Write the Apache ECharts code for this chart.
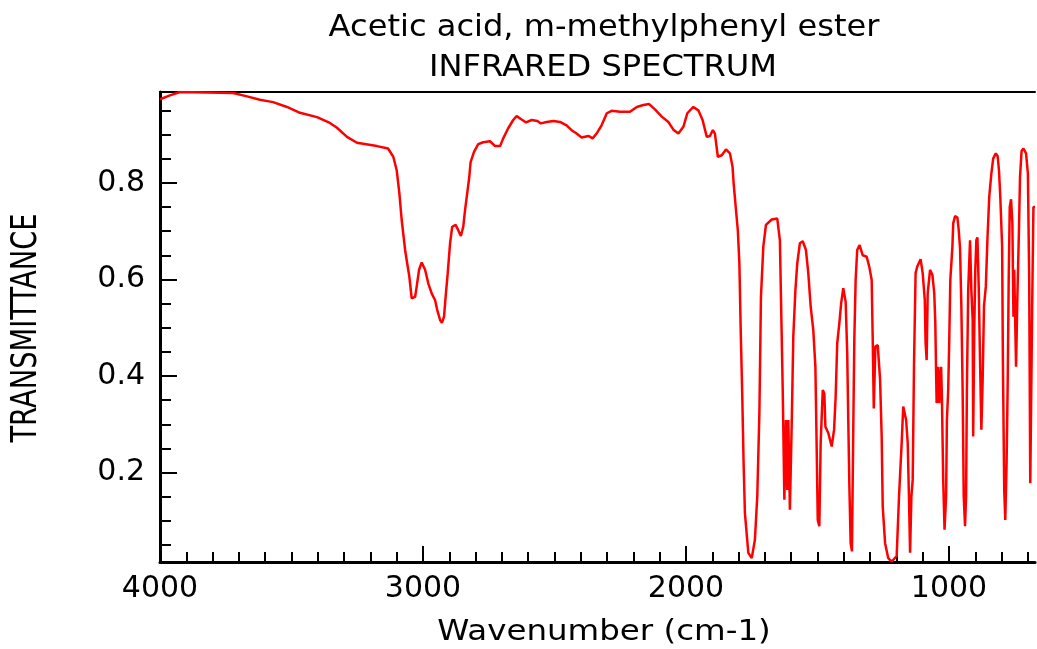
<!DOCTYPE html>
<html>
<head>
<meta charset="utf-8">
<script src="https://cdn.jsdelivr.net/npm/echarts@6/dist/echarts.min.js"></script>
<style>
  html, body { margin: 0; padding: 0; background: #fff; }
  #main { width: 1037px; height: 649px; }
</style>
</head>
<body>
<div id="main"></div>
<script>
// spectrum (cm-1, transmittance)
var wavenumber = [4000,3962,3924,3722,3669,3620,3570,3517,3468,3403,3354,3327,3289,3251,3175,3133,3113,3100,3090,3081,3068,3060,3052,3043,3030,3024,3015,3005,2992,2980,2967,2954,2946,2935,2928,2920,2914,2906,2897,2889,2876,2866,2856,2847,2840,2832,2824,2819,2806,2790,2771,2745,2726,2707,2695,2676,2657,2644,2625,2608,2587,2565,2552,2530,2504,2479,2454,2435,2416,2397,2371,2355,2340,2321,2301,2283,2251,2213,2187,2162,2140,2118,2092,2067,2048,2029,2010,1995,1972,1953,1937,1921,1909,1898,1890,1879,1864,1848,1833,1823,1819,1811,1803,1797,1792,1786,1781,1776,1763,1750,1738,1729,1721,1715,1706,1696,1674,1653,1643,1638,1632,1626,1620,1615,1611,1605,1598,1592,1584,1577,1567,1556,1544,1535,1526,1516,1508,1503,1499,1493,1488,1480,1474,1470,1459,1446,1437,1431,1425,1417,1410,1402,1393,1387,1383,1379,1374,1369,1364,1360,1355,1349,1340,1328,1313,1303,1294,1290,1286,1280,1271,1262,1256,1252,1243,1231,1218,1199,1190,1180,1174,1163,1157,1152,1148,1143,1138,1133,1127,1121,1108,1100,1092,1089,1085,1081,1072,1063,1056,1052,1049,1047,1041,1037,1030,1027,1022,1017,1011,1008,1003,999,995,987,984,977,968,963,958,953,948,944,939,935,932,927,920,915,910,908,904,900,896,892,887,882,877,872,867,860,854,847,839,832,822,815,810,805,798,795,790,786,781,777,773,769,764,759,755,752,745,740,734,730,724,717,707,700,695,691,684,679,673];
var transmittance = [0.973,0.981,0.988,0.986,0.979,0.972,0.967,0.957,0.945,0.936,0.924,0.914,0.895,0.883,0.876,0.871,0.854,0.826,0.779,0.723,0.661,0.633,0.606,0.561,0.564,0.585,0.620,0.635,0.620,0.592,0.571,0.557,0.537,0.516,0.510,0.523,0.564,0.613,0.675,0.709,0.713,0.702,0.690,0.709,0.744,0.778,0.812,0.843,0.864,0.880,0.884,0.886,0.876,0.876,0.892,0.913,0.930,0.938,0.931,0.925,0.930,0.928,0.923,0.926,0.928,0.926,0.919,0.909,0.902,0.894,0.897,0.892,0.902,0.919,0.944,0.949,0.947,0.947,0.957,0.961,0.963,0.952,0.937,0.926,0.910,0.902,0.916,0.944,0.957,0.950,0.930,0.895,0.897,0.909,0.902,0.854,0.857,0.869,0.861,0.833,0.800,0.750,0.702,0.633,0.495,0.357,0.220,0.116,0.034,0.023,0.061,0.151,0.323,0.564,0.668,0.713,0.724,0.726,0.681,0.537,0.364,0.144,0.309,0.164,0.309,0.123,0.302,0.482,0.578,0.633,0.675,0.679,0.661,0.613,0.544,0.495,0.419,0.247,0.102,0.089,0.261,0.371,0.364,0.295,0.282,0.254,0.289,0.357,0.468,0.509,0.551,0.582,0.554,0.447,0.309,0.178,0.054,0.037,0.289,0.475,0.599,0.661,0.671,0.650,0.647,0.626,0.599,0.475,0.333,0.461,0.464,0.392,0.275,0.130,0.054,0.023,0.016,0.027,0.151,0.261,0.337,0.309,0.261,0.144,0.034,0.151,0.185,0.427,0.613,0.626,0.642,0.613,0.557,0.468,0.433,0.571,0.620,0.609,0.571,0.509,0.406,0.344,0.419,0.344,0.419,0.357,0.185,0.082,0.151,0.309,0.371,0.475,0.599,0.668,0.716,0.731,0.728,0.702,0.664,0.544,0.364,0.151,0.089,0.151,0.371,0.578,0.681,0.578,0.516,0.275,0.495,0.620,0.681,0.687,0.585,0.433,0.289,0.392,0.544,0.585,0.681,0.771,0.819,0.850,0.861,0.855,0.826,0.771,0.668,0.427,0.164,0.102,0.220,0.378,0.599,0.750,0.766,0.716,0.523,0.620,0.419,0.564,0.702,0.812,0.866,0.871,0.861,0.819,0.599,0.178,0.533,0.750,0.750];

var xLabels = [1000, 2000, 3000, 4000];
var xMinorTicks = [700,800,900,1100,1200,1300,1400,1500,1600,1700,1800,1900,2100,2200,2300,2400,2500,2600,2700,2800,2900,3100,3200,3300,3400,3500,3600,3700,3800,3900];
var yLabels = [0.2, 0.4, 0.6, 0.8];
var yMinorTicks = [0.05,0.1,0.15,0.25,0.3,0.35,0.45,0.5,0.55,0.65,0.7,0.75,0.85,0.9,0.95];

var chart = echarts.init(document.getElementById('main'));

var points = wavenumber.map(function (w, i) { return [w, transmittance[i]]; });

var FONT = '"DejaVu Sans", sans-serif';
var xMin = 673, xMax = 4000;
var yMin = 0.015, yMax = 0.988;

var option = {
  backgroundColor: '#fff',
  animation: false,
  grid: { left: 160, right: 2, top: 92, bottom: 87, containLabel: false },
  graphic: [
    {
      type: 'text', x: 604, y: 28, scaleX: 1.07,
      style: { text: 'Acetic acid, m-methylphenyl ester', font: '30px ' + FONT, fill: '#000',
               textAlign: 'center', textVerticalAlign: 'middle' }
    },
    {
      type: 'text', x: 603, y: 68, scaleX: 1.07,
      style: { text: 'INFRARED SPECTRUM', font: '30px ' + FONT, fill: '#000',
               textAlign: 'center', textVerticalAlign: 'middle' }
    },
    {
      type: 'text', x: 604, y: 633, scaleX: 1.16,
      style: { text: 'Wavenumber (cm-1)', font: '28px ' + FONT, fill: '#000',
               textAlign: 'center', textVerticalAlign: 'middle' }
    },
    {
      type: 'text', x: 27, y: 328, rotation: Math.PI / 2, scaleX: 0.76,
      style: { text: 'TRANSMITTANCE', font: '36px ' + FONT, fill: '#000',
               textAlign: 'center', textVerticalAlign: 'middle' }
    }
  ],
  xAxis: [
    {
      type: 'value', min: xMin, max: xMax, inverse: true, position: 'bottom',
      axisLine: { show: true, lineStyle: { color: '#000', width: 3 } },
      axisTick: { show: true, inside: true, length: 16, customValues: xLabels, lineStyle: { color: '#000', width: 2 } },
      axisLabel: {
        show: true, customValues: xLabels, margin: 12, color: '#000', fontSize: 30, fontFamily: FONT,
        formatter: function (v) { return String(v); }
      },
      splitLine: { show: false }
    },
    {
      type: 'value', min: xMin, max: xMax, inverse: true, position: 'bottom',
      axisLine: { show: false },
      axisTick: { show: true, inside: true, length: 10, customValues: xMinorTicks, lineStyle: { color: '#000', width: 2 } },
      axisLabel: { show: false },
      splitLine: { show: false }
    },
    {
      type: 'value', min: xMin, max: xMax, inverse: true, position: 'top',
      axisLine: { show: true, lineStyle: { color: '#000', width: 2 } },
      axisTick: { show: false },
      axisLabel: { show: false },
      splitLine: { show: false }
    }
  ],
  yAxis: [
    {
      type: 'value', min: yMin, max: yMax, position: 'left',
      axisLine: { show: true, lineStyle: { color: '#000', width: 3 } },
      axisTick: { show: true, inside: true, length: 17, customValues: yLabels, lineStyle: { color: '#000', width: 2 } },
      axisLabel: {
        show: true, customValues: yLabels, margin: 15, color: '#000', fontSize: 30, fontFamily: FONT,
        formatter: function (v) { return v.toFixed(1); }
      },
      splitLine: { show: false }
    },
    {
      type: 'value', min: yMin, max: yMax, position: 'left',
      axisLine: { show: false },
      axisTick: { show: true, inside: true, length: 11, customValues: yMinorTicks, lineStyle: { color: '#000', width: 2 } },
      axisLabel: { show: false },
      splitLine: { show: false }
    }
  ],
  series: [
    {
      type: 'line',
      xAxisIndex: 0,
      yAxisIndex: 0,
      data: points,
      showSymbol: false,
      smooth: false,
      clip: true,
      lineStyle: { color: '#ff0000', width: 2.5 }
    }
  ]
};

chart.setOption(option);
</script>
</body>
</html>
